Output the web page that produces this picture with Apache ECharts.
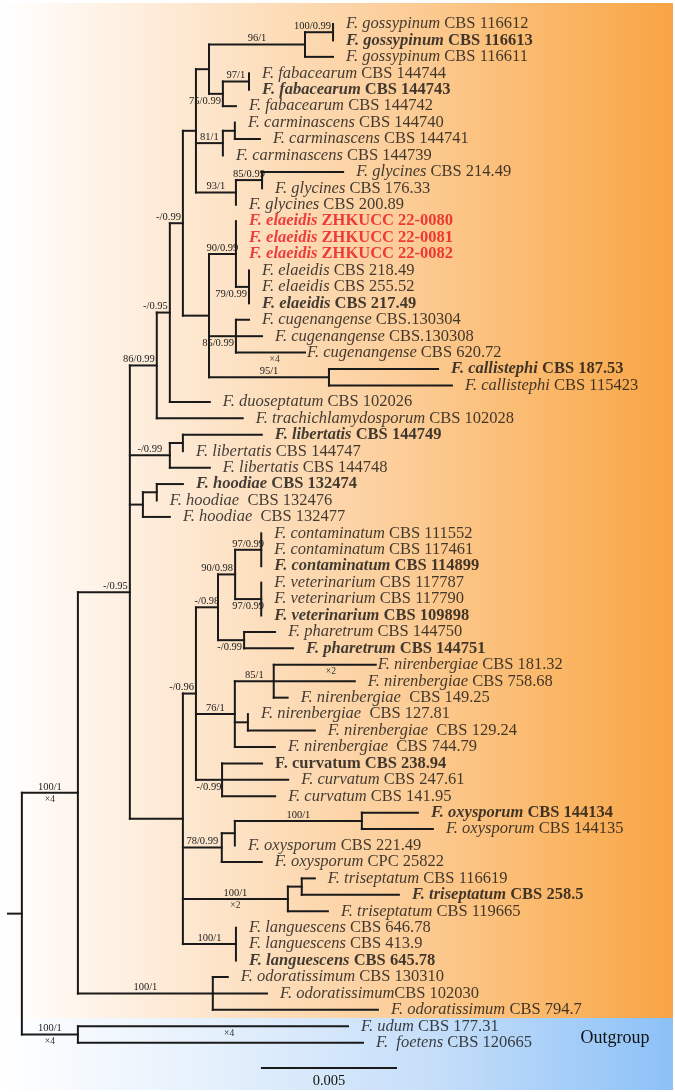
<!DOCTYPE html>
<html><head><meta charset="utf-8">
<script src="https://cdn.jsdelivr.net/npm/echarts@6/dist/echarts.min.js"></script>
<style>html,body{margin:0;padding:0;background:#fff;}#c{width:675px;height:1092px;}</style>
</head><body><div id="c"></div>
<script>
// ---------------- DATA ----------------
// Leaves, top to bottom
const leafSpecies = [
 'F. gossypinum','F. gossypinum','F. gossypinum','F. fabacearum','F. fabacearum','F. fabacearum',
 'F. carminascens','F. carminascens','F. carminascens','F. glycines','F. glycines','F. glycines',
 'F. elaeidis','F. elaeidis','F. elaeidis','F. elaeidis','F. elaeidis','F. elaeidis',
 'F. cugenangense','F. cugenangense','F. cugenangense','F. callistephi','F. callistephi',
 'F. duoseptatum','F. trachichlamydosporum','F. libertatis','F. libertatis','F. libertatis',
 'F. hoodiae','F. hoodiae','F. hoodiae','F. contaminatum','F. contaminatum','F. contaminatum',
 'F. veterinarium','F. veterinarium','F. veterinarium','F. pharetrum','F. pharetrum',
 'F. nirenbergiae','F. nirenbergiae','F. nirenbergiae','F. nirenbergiae','F. nirenbergiae','F. nirenbergiae',
 'F. curvatum','F. curvatum','F. curvatum','F. oxysporum','F. oxysporum','F. oxysporum','F. oxysporum',
 'F. triseptatum','F. triseptatum','F. triseptatum','F. languescens','F. languescens','F. languescens',
 'F. odoratissimum','F. odoratissimum','F. odoratissimum','F. udum','F.  foetens'
];
const leafStrain = [
 ' CBS 116612',' CBS 116613',' CBS 116611',' CBS 144744',' CBS 144743',' CBS 144742',
 ' CBS 144740',' CBS 144741',' CBS 144739',' CBS 214.49',' CBS 176.33',' CBS 200.89',
 ' ZHKUCC 22-0080',' ZHKUCC 22-0081',' ZHKUCC 22-0082',' CBS 218.49',' CBS 255.52',' CBS 217.49',
 ' CBS.130304',' CBS.130308',' CBS 620.72',' CBS 187.53',' CBS 115423',
 ' CBS 102026',' CBS 102028',' CBS 144749',' CBS 144747',' CBS 144748',
 ' CBS 132474','  CBS 132476','  CBS 132477',' CBS 111552',' CBS 117461',' CBS 114899',
 ' CBS 117787',' CBS 117790',' CBS 109898',' CBS 144750',' CBS 144751',
 ' CBS 181.32',' CBS 758.68','  CBS 149.25','  CBS 127.81','  CBS 129.24','  CBS 744.79',
 ' CBS 238.94',' CBS 247.61',' CBS 141.95',' CBS 144134',' CBS 144135',' CBS 221.49',' CPC 25822',
 ' CBS 116619',' CBS 258.5',' CBS 119665',' CBS 646.78',' CBS 413.9',' CBS 645.78',
 ' CBS 130310','CBS 102030',' CBS 794.7',' CBS 177.31',' CBS 120665'
];
// '' = reference strain, 'T' = ex-type, 'N' = this study, 'U' = ex-type (set upright)
const leafStatus = [
 '','T','','','T','', '','','','','','', 'N','N','N','','','T', '','','','T','',
 '','','T','','', 'T','','','','','T', '','','T','','T', '','','','','','',
 'U','','','T','','','', '','T','','','','T', '','','','',''
];
const leafParent = [
 17,17,16,19,19,18, 21,21,20,23,23,22, 24,24,24,25,25,25, 26,26,26,27,27,
 11,5,7,7,6, 9,9,8,31,31,31, 32,32,32,33,33, 35,35,35,36,36,34,
 37,37,37,40,40,39,38, 42,42,41,43,43,43, 4,4,4,2,2
];
const leafLength = [
 0,0,0.00103,0,0,0.00048, 0,0.00092,0,0.00298,0,0, 0,0,0,0,0,0,
 0.00048,0.00096,0.00254,0.00401,0.00452, 0.00147,0.00316,0.0029,0,0.00147,
 0.00096,0,0.00099,0,0,0, 0,0,0,0.00114,0.0018,
 0.00375,0.00298,0.00051,0,0.00246,0.00147, 0.00147,0.00243,0.00195,
 0.00206,0.00261,0,0.00147, 0.00048,0.00357,0.00147, 0,0,0,
 0.00055,0.00199,0.00607,0.00993,0.01048
];
const leafCompressed = {20:'×4', 39:'×2', 61:'×4'};
// Internal nodes (parent index always lower than own index; root = 0)
const nodeParent = [-1,0,0,1,1,3,3,6,3,8,3,5,11,12,12,13,15,16,15,18,13,20,13,22,14,24,14,14,10,28,29,30,30,29,28,34,34,28,10,38,39,10,41,10];
const nodeLength = [
 0.00051,0.00206,0.00206,0.00191,0.00496,0.00099,0.00147,0.00048,0.00048,0.00051,
 0.00195,0.00048,0.00048,0.00048,0.00096,0.00048,0.00353,0.00103,0.00051,0.00096,
 0.00099,0.00044,0.00147,0.00096,0.00099,0.00048,0.00099,0.00441,0.00048,0.00081,
 0.00063,0.00096,0.00096,0.00096,0.00143,0.00143,0.00048,0.00096,0.00143,0.00048,
 0.00467,0.00386,0.00051,0.00195
];
const nodeSupport = [
 '','100/1','100/1','-/0.95','100/1','86/0.99','-/0.99','','','',
 '','-/0.95','-/0.99','','','','96/1','100/0.99','75/0.99','97/1',
 '81/1','','93/1','85/0.99','90/0.99','79/0.99','85/0.99','95/1','-/0.96','-/0.98',
 '90/0.98','97/0.99','97/0.99','-/0.99','76/1','85/1','','-/0.99','78/0.99','',
 '100/1','100/1','','100/1'
];
const nodeCompressed = {1:'×4', 2:'×4', 41:'×2'};
const scaleBarLength = 0.005;
const scaleBarLabel = '0.005';
const groupLabel = 'Outgroup';

// ---------------- LAYOUT (computed from data) ----------------
const nN = nodeParent.length, nL = leafSpecies.length;
const nodeX = new Array(nN), nodeY = new Array(nN);
const childMin = new Array(nN).fill(Infinity), childMax = new Array(nN).fill(-Infinity);
for (let i = 0; i < nN; i++) nodeX[i] = (nodeParent[i] < 0 ? 0 : nodeX[nodeParent[i]]) + nodeLength[i];
for (let j = 0; j < nL; j++) {
  const p = leafParent[j];
  childMin[p] = Math.min(childMin[p], j); childMax[p] = Math.max(childMax[p], j);
}
for (let i = nN - 1; i >= 0; i--) {
  nodeY[i] = (childMin[i] + childMax[i]) / 2;
  const p = nodeParent[i];
  if (p >= 0) { childMin[p] = Math.min(childMin[p], nodeY[i]); childMax[p] = Math.max(childMax[p], nodeY[i]); }
}
const segs = [];
for (let i = 0; i < nN; i++) {
  const px = nodeParent[i] < 0 ? 0 : nodeX[nodeParent[i]];
  segs.push([px, nodeY[i], nodeX[i], nodeY[i]]);
  segs.push([nodeX[i], childMin[i], nodeX[i], childMax[i]]);
}
const tipX = [];
for (let j = 0; j < nL; j++) {
  const px = nodeX[leafParent[j]];
  tipX.push(px + leafLength[j]);
  if (leafLength[j] > 0) segs.push([px, j, px + leafLength[j], j]);
}

// support label placement (layout only): r = right-aligned at child node, b = below branch
const supportPlace = {3:'r',5:'r',11:'r',12:'r',17:'r',18:'rb',25:'rb',26:'rb',28:'r',30:'r',32:'cb',33:'rb',37:'cb'};
const supItems = [];
for (let i = 0; i < nN; i++) {
  if (!nodeSupport[i]) continue;
  const px = nodeParent[i] < 0 ? 0 : nodeX[nodeParent[i]];
  const pl = supportPlace[i] || 'c';
  supItems.push({x: pl[0] === 'r' ? nodeX[i] : (px + nodeX[i]) / 2, y: nodeY[i], text: nodeSupport[i],
                 anchor: pl[0], below: pl.indexOf('b') > 0, small: false});
  if (nodeCompressed[i]) supItems.push({x:(px + nodeX[i]) / 2, y: nodeY[i], text: nodeCompressed[i], anchor:'c', below:true, small:true});
}
Object.keys(leafCompressed).forEach(k => {
  const j = +k, px = nodeX[leafParent[j]];
  supItems.push({x:px + (tipX[j] - px) * 0.56, y:j, text:leafCompressed[k], anchor:'c', below:true, small:true});
});

// ---------------- CHART ----------------
const SERIF = '"Liberation Serif","Times New Roman",serif';
const FS = 16.5;
const INK = '#111111';
const RED = '#e8141c';
const rich = {
  i:  {fontFamily:SERIF, fontSize:FS, fontStyle:'italic', color:INK},
  n:  {fontFamily:SERIF, fontSize:FS, color:INK},
  bi: {fontFamily:SERIF, fontSize:FS, fontStyle:'italic', fontWeight:'bold', color:INK},
  b:  {fontFamily:SERIF, fontSize:FS, fontWeight:'bold', color:INK},
  ri: {fontFamily:SERIF, fontSize:FS, fontStyle:'italic', fontWeight:'bold', color:RED},
  r:  {fontFamily:SERIF, fontSize:FS, fontWeight:'bold', color:RED}
};
function leafText(j) {
  const s = leafSpecies[j], t = leafStrain[j];
  switch (leafStatus[j]) {
    case 'T': return '{bi|' + s + '}{b|' + t + '}';
    case 'N': return '{ri|' + s + '}{r|' + t + '}';
    case 'U': return '{b|' + s + t + '}';
    default:  return '{i|' + s + '}{n|' + t + '}';
  }
}
const tight = {20:1, 39:1};
const leafData = tipX.map((x, j) => ({value:[x, j], label:{distance: tight[j] ? 2 : 13}}));

const chart = echarts.init(document.getElementById('c'), null, {renderer:'canvas'});
const XMAX = 0.024522, YMAX = 65;
chart.setOption({
  animation:false,
  backgroundColor:'#ffffff',
  grid:{left:8, top:24, width:667, height:1068},
  xAxis:{type:'value', min:0, max:XMAX, show:false},
  yAxis:{type:'value', min:0, max:YMAX, inverse:true, show:false},
  graphic:[
    {type:'rect', z:-10, shape:{x:0, y:3, width:673, height:1015},
     style:{fill:new echarts.graphic.LinearGradient(0,0,1,0,[
       {offset:0,color:'#ffffff'},{offset:0.06,color:'#fffaf5'},{offset:0.3,color:'#fde6cd'},
       {offset:0.6,color:'#fccd98'},{offset:0.85,color:'#fab462'},{offset:1,color:'#f8a445'}])}},
    {type:'rect', z:-10, shape:{x:0, y:1018, width:673, height:72},
     style:{fill:new echarts.graphic.LinearGradient(0,0,1,0,[
       {offset:0,color:'#ffffff'},{offset:0.3,color:'#e6f1fc'},{offset:0.65,color:'#c5def9'},{offset:1,color:'#8cc1f7'}])}},
    {type:'text', z:10, x:615, y:1038, style:{text:groupLabel, font:'18px ' + SERIF, fill:INK, align:'center', verticalAlign:'middle', textAlign:'center', textVerticalAlign:'middle'}}
  ],
  series:[
    {type:'custom', name:'branches', clip:false, data:segs, encode:{x:[0,2], y:[1,3]},
     renderItem:function(params, api){
       const a = api.coord([api.value(0), api.value(1)]), b = api.coord([api.value(2), api.value(3)]);
       return {type:'line', shape:{x1:a[0], y1:a[1], x2:b[0], y2:b[1]}, style:{stroke:'#1a1a1a', lineWidth:2, lineCap:'square'}};
     }},
    {type:'scatter', name:'leaves', data:leafData, symbolSize:0.1, itemStyle:{color:'rgba(0,0,0,0)'},
     label:{show:true, position:'right', formatter:p => leafText(p.dataIndex), rich:rich}},
    {type:'custom', name:'support', clip:false, data:supItems.map((s, k) => [s.x, s.y, k]), encode:{x:0, y:1},
     renderItem:function(params, api){
       const s = supItems[api.value(2)];
       const pt = api.coord([s.x, s.y]);
       const dx = s.anchor === 'r' ? -2 : 0;
       const dy = s.below ? 7 : -6;
       const al = s.anchor === 'r' ? 'right' : 'center';
       return {type:'text', x:pt[0] + dx, y:pt[1] + dy,
         style:{text:s.text, font:(s.small ? '9.5px ' : '10.5px ') + SERIF, fill:s.small ? '#333' : '#1a1a1a',
                align:al, verticalAlign:'middle', textAlign:al, textVerticalAlign:'middle'}};
     }},
    {type:'custom', name:'scale', clip:false, data:[[0.0093, 63.54]], encode:{x:0, y:1},
     renderItem:function(params, api){
       const a = api.coord([api.value(0), api.value(1)]);
       const b = api.coord([api.value(0) + scaleBarLength, api.value(1)]);
       return {type:'group', children:[
         {type:'line', shape:{x1:a[0], y1:a[1], x2:b[0], y2:b[1]}, style:{stroke:'#1a1a1a', lineWidth:2}},
         {type:'text', x:(a[0] + b[0]) / 2, y:a[1] + 13,
          style:{text:scaleBarLabel, font:'14.5px ' + SERIF, fill:INK, align:'center', verticalAlign:'middle', textAlign:'center', textVerticalAlign:'middle'}}
       ]};
     }}
  ]
});
</script></body></html>
